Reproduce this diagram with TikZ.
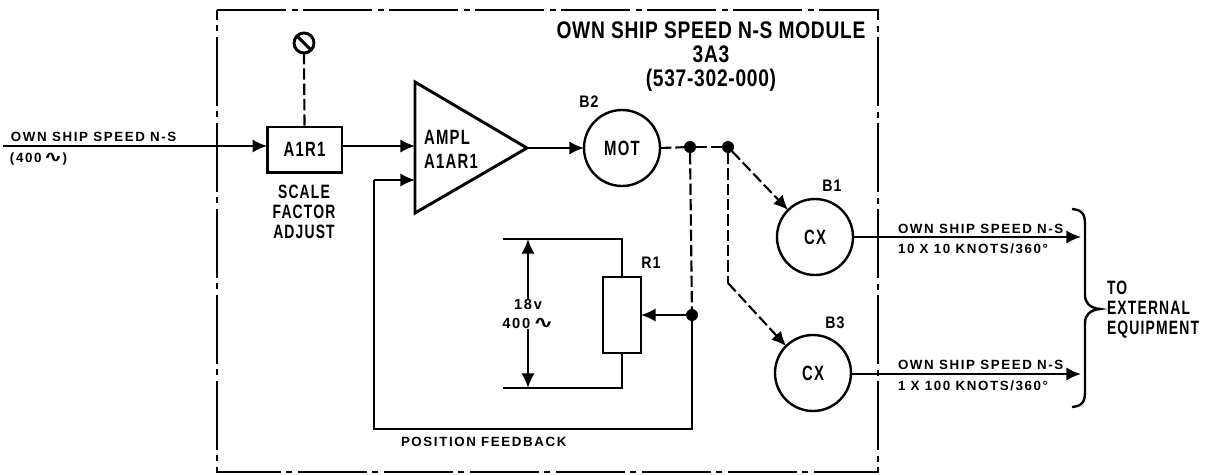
\documentclass[tikz,border=0pt]{standalone}
\usepackage{fontspec}
\usepackage{graphicx}
\usepackage{tikz}
\usetikzlibrary{arrows.meta}
\setmainfont{Liberation Sans}
\newfontfamily\TITLEFONT[FakeStretch=0.8,LetterSpace=3]{Liberation Sans}
\newfontfamily\MIDFONT[FakeStretch=0.72,LetterSpace=6]{Liberation Sans}
\newfontfamily\TAGFONT[FakeStretch=0.85,LetterSpace=6]{Liberation Sans}
\newfontfamily\SMALLFONT[LetterSpace=12]{Liberation Sans}
\newfontfamily\WAVEFONT{DejaVu Sans}
\newcommand{\ACWAVE}{\scalebox{1.7}[1.2]{\WAVEFONT\bfseries\char"223F}}
\tikzset{
    TITLE/.style={inner sep=0mm, outer sep=0mm, align=center,
        font={\TITLEFONT\bfseries\fontsize{18}{18}\selectfont}},
    MID/.style={inner sep=0mm, outer sep=0mm, align=center,
        font={\MIDFONT\bfseries\fontsize{15.5}{15.5}\selectfont}},
    TAG/.style={inner sep=0mm, outer sep=0mm, align=center,
        font={\TAGFONT\bfseries\fontsize{12.5}{13}\selectfont}},
    SMALL/.style={inner sep=0mm, outer sep=0mm, anchor=west,
        font={\SMALLFONT\bfseries\fontsize{10}{11}\selectfont}},
    ROTOR/.style={shape=circle, draw=black, line width=1.8pt, minimum size=57pt,
        inner sep=0mm, outer sep=0mm, MID},
    BLOCK/.style={shape=rectangle, draw=black, line width=2pt, inner sep=0mm, outer sep=0mm},
    KNOB/.style={shape=circle, draw=black, line width=2.2pt, minimum size=15pt,
        inner sep=0mm, outer sep=0mm},
    JOINT/.style={shape=circle, fill=black, minimum size=9pt, inner sep=0mm, outer sep=0mm},
    EDGE/.style={draw=black, line width=1.6pt},
    FLOW/.style={EDGE, -{Latex[length=11pt,width=10pt]}},
    LINK/.style={EDGE, dash pattern=on 8.5pt off 3pt},
    FRAME/.style={draw=black, line width=2pt, dash pattern=on 52pt off 4pt on 4.5pt off 4pt}
}
\pgfdeclarelayer{edgelayer}
\pgfdeclarelayer{nodelayer}
\pgfsetlayers{edgelayer,nodelayer,main}

\begin{document}
\begin{tikzpicture}[x=0.75pt, y=-0.75pt]
    \useasboundingbox (0, 0) rectangle (1211, 475);
    \begin{pgfonlayer}{nodelayer}
        % input side
        \coordinate (in) at (3, 146);
        \node [SMALL] (inname) at (11, 137) {OWN SHIP SPEED N-S};
        \node [SMALL] (infreq) at (10, 159) {(400\,\ACWAVE)};
        \node [BLOCK, MID, minimum width=56pt, minimum height=34pt] (a1r1) at (304.5, 149.5) {A1R1};
        \node [KNOB] (knob) at (304, 43) {};
        \node [MID, font={\MIDFONT\bfseries\fontsize{14.5}{15}\selectfont}] (scale) at (304, 212) {SCALE\\FACTOR\\ADJUST};
        % amplifier
        \coordinate (ampa) at (415, 82);
        \coordinate (ampb) at (415, 213);
        \coordinate (ampc) at (527, 148);
        \coordinate (ampin) at (415, 146);
        \coordinate (ampfb) at (415, 180);
        \node [MID, align=left, font={\MIDFONT\bfseries\fontsize{15.5}{18}\selectfont}] (ampl) at (451, 149) {AMPL\\A1AR1};
        % motor and pickoffs
        \node [ROTOR] (mot) at (622, 148) {MOT};
        \node [TAG] (b2) at (589, 102) {B2};
        \node [JOINT] (j1) at (690, 147) {};
        \node [JOINT] (j2) at (728, 147) {};
        \node [ROTOR] (cx1) at (815, 237) {CX};
        \node [TAG] (b1) at (832, 186) {B1};
        \node [ROTOR] (cx3) at (813, 373) {CX};
        \node [TAG] (b3) at (835, 323) {B3};
        \coordinate (bend) at (728, 283);
        % feedback pot
        \node [BLOCK, minimum width=28.5pt, minimum height=57pt] (r1) at (622, 315) {};
        \node [TAG] (r1name) at (651, 263) {R1};
        \node [JOINT] (j3) at (692, 315) {};
        \coordinate (fbcorner) at (692, 429);
        \coordinate (fbleft) at (374, 429);
        \coordinate (fbup) at (374, 180);
        \coordinate (pottop) at (622, 239);
        \coordinate (potend) at (503, 239);
        \coordinate (potlow) at (622, 388);
        \coordinate (potlowend) at (503, 388);
        \coordinate (volttop) at (528, 239);
        \coordinate (voltlow) at (528, 388);
        \node [TAG, font={\SMALLFONT\bfseries\fontsize{11}{14}\selectfont}] (volt) at (528, 314) {18v\\400\,\ACWAVE};
        \node [SMALL] (fbname) at (401, 442) {POSITION FEEDBACK};
        % outputs
        \coordinate (out1) at (1081, 237);
        \coordinate (out3) at (1081, 374);
        \node [SMALL] (out1a) at (898, 229) {OWN SHIP SPEED N-S};
        \node [SMALL] (out1b) at (898, 249) {10 X 10 KNOTS/360\textdegree};
        \node [SMALL] (out3a) at (898, 365) {OWN SHIP SPEED N-S};
        \node [SMALL] (out3b) at (898, 386) {1 X 100 KNOTS/360\textdegree};
        \node [MID, align=left, anchor=west, font={\MIDFONT\bfseries\fontsize{14.5}{15}\selectfont}] (ext) at (1107, 310) {TO\\EXTERNAL\\EQUIPMENT};
        % module title
        \node [TITLE] (title) at (711, 57) {OWN SHIP SPEED N-S MODULE\\3A3\\(537-302-000)};
    \end{pgfonlayer}
    \begin{pgfonlayer}{edgelayer}
        \draw[FRAME] (217, 10) -- (878, 10) -- (878, 472) -- (217, 472) -- cycle;
        \draw[FLOW] (in) to (a1r1.west |- in);
        \draw[FLOW] (a1r1.east |- ampin) to (ampin);
        \draw[LINK] (knob.south) to (a1r1.north);
        \draw[EDGE, line width=2.2pt] (knob.135) to (knob.315);
        \draw[EDGE, line width=2.2pt, line join=miter] (ampa) -- (ampc) -- (ampb) -- cycle;
        \draw[FLOW] (ampc) to (mot.west);
        \draw[LINK] (mot.east) to (j1);
        \draw[LINK] (j1) to (j2);
        \draw[LINK] (j1) to (j3);
        \draw[LINK, -{Latex[length=11pt,width=10pt]}] (j2) to (cx1.135);
        \draw[LINK] (j2) to (bend);
        \draw[LINK, -{Latex[length=11pt,width=10pt]}] (bend) to (cx3.135);
        \draw[FLOW] (j3) to (r1.east);
        \draw[EDGE] (j3) -- (fbcorner) -- (fbleft) -- (fbup);
        \draw[FLOW] (fbup) to (ampfb);
        \draw[EDGE] (r1.north) -- (pottop) -- (potend);
        \draw[EDGE] (r1.south) -- (potlow) -- (potlowend);
        \draw[FLOW] (volt.north) to (volttop);
        \draw[FLOW] (volt.south) to (voltlow);
        \draw[FLOW] (cx1.east) to (out1);
        \draw[FLOW] (cx3.east |- out3) to (out3);
        % brace towards the external equipment
        \draw[EDGE, line width=1.8pt] (1072, 209) .. controls (1082, 210) and (1085, 214) .. (1085, 224)
            -- (1085, 295) .. controls (1085, 303) and (1090, 308) .. (1100, 309)
            .. controls (1090, 310) and (1085, 315) .. (1085, 323)
            -- (1085, 392) .. controls (1085, 402) and (1082, 406) .. (1072, 407);
    \end{pgfonlayer}
\end{tikzpicture}
\end{document}
